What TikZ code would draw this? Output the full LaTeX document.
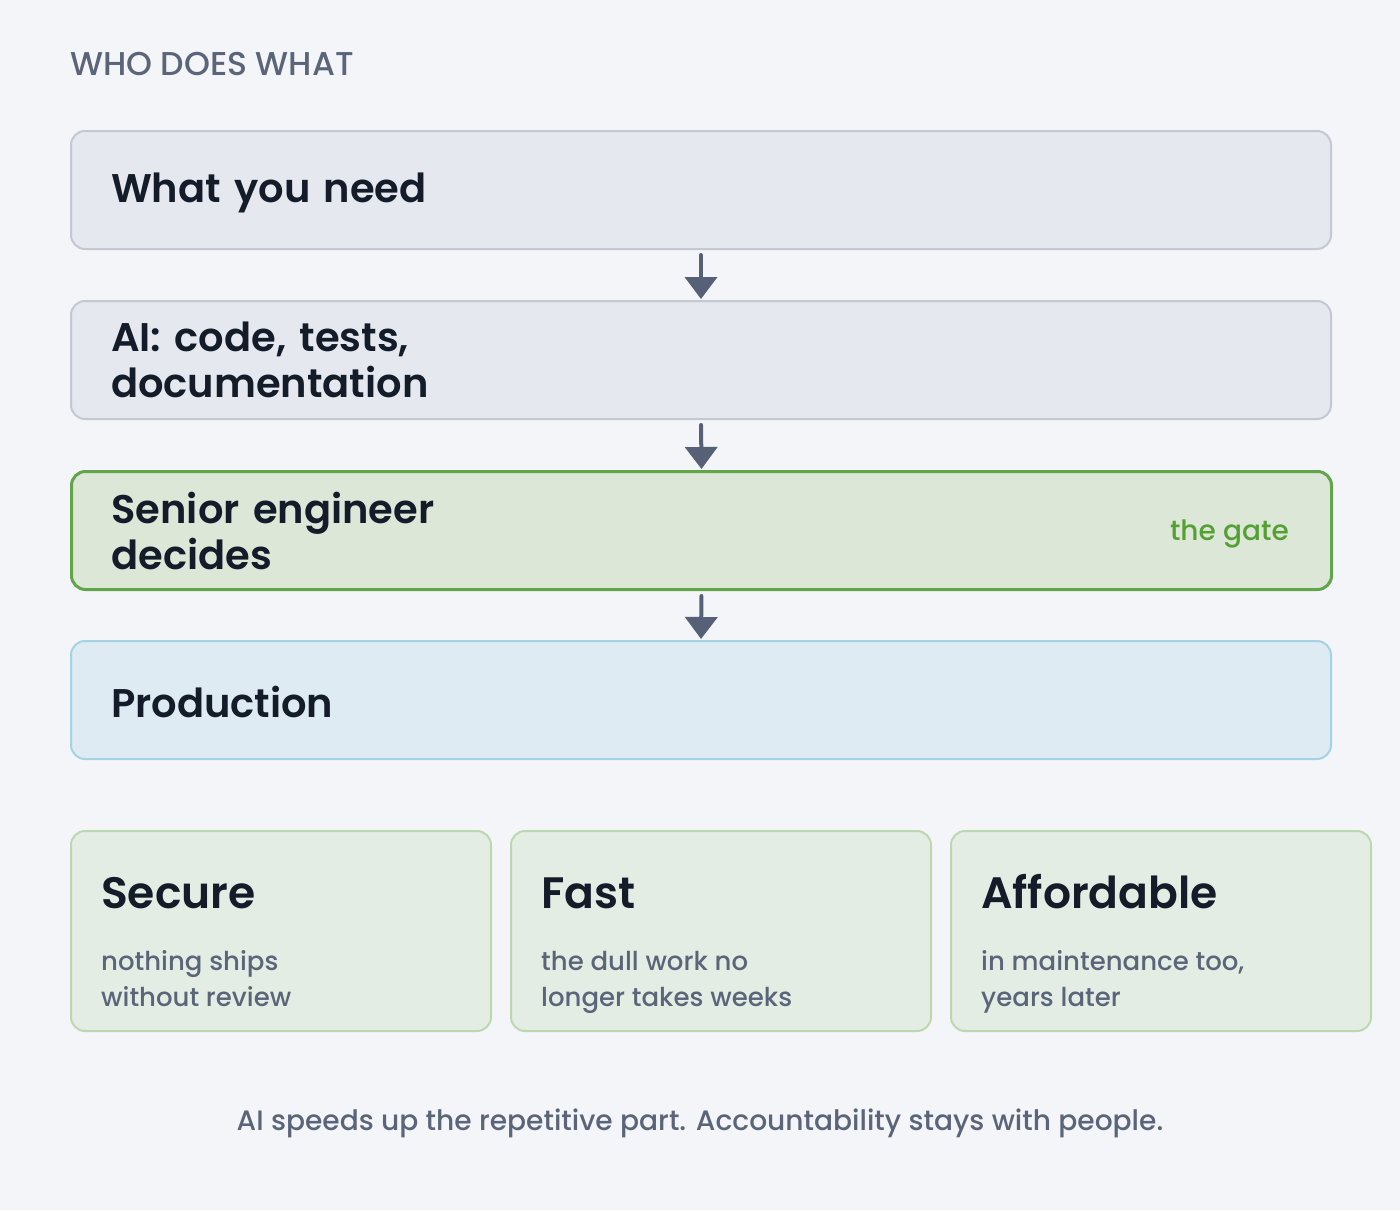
\documentclass[tikz,border=0pt]{standalone}
\usepackage{fontspec}
\setmainfont{Poppins}[BoldFont={Poppins SemiBold}]
\newfontfamily\mediumfont{Poppins Medium}
\usetikzlibrary{arrows.meta,positioning}
\definecolor{bgc}{HTML}{F3F5F9}
\definecolor{grayfill}{HTML}{E5E8EF}
\definecolor{graydraw}{HTML}{C4C8D0}
\definecolor{darktext}{HTML}{141C2A}
\definecolor{greenfill}{HTML}{DCE7D8}
\definecolor{greendraw}{HTML}{62A44A}
\definecolor{gatetext}{HTML}{55A035}
\definecolor{prodfill}{HTML}{DEEBF2}
\definecolor{proddraw}{HTML}{A6D3E3}
\definecolor{cardfill}{HTML}{E3EDE3}
\definecolor{carddraw}{HTML}{BCD8B0}
\definecolor{subtext}{HTML}{5B6579}
\definecolor{arrowc}{HTML}{566178}
\tikzset{
  flowbox/.style={rectangle, rounded corners=14pt, line width=2pt, minimum width=1260pt, minimum height=118pt, text width=1180pt, inner xsep=38pt, inner ysep=0pt, align=left, anchor=north west, text=darktext, font=\fontsize{40}{46}\selectfont\bfseries},
  graybox/.style={flowbox, fill=grayfill, draw=graydraw},
  gatebox/.style={flowbox, fill=greenfill, draw=greendraw, line width=3pt},
  prodbox/.style={flowbox, fill=prodfill, draw=proddraw},
  card/.style={rectangle, rounded corners=14pt, line width=2pt, minimum width=420pt, minimum height=200pt, anchor=north west, fill=cardfill, draw=carddraw},
  cardtitle/.style={anchor=base west, inner sep=0pt, text=darktext, font=\fontsize{44}{50}\selectfont\bfseries},
  cardsub/.style={anchor=base west, inner sep=0pt, text=subtext, align=left, font=\mediumfont\fontsize{26}{36}\selectfont},
  flowarrow/.style={draw=arrowc, line width=4pt, line cap=round, -{Triangle[width=32pt,length=22pt]}, shorten <=5pt, shorten >=1pt},
}
\begin{document}
\begin{tikzpicture}[x=1pt,y=-1pt]
\fill[bgc] (0,0) rectangle (1400,1210);
\useasboundingbox (0,0) rectangle (1400,1210);
\node[anchor=base west, inner sep=0pt, text=subtext, font=\mediumfont\fontsize{33}{36}\selectfont] (title) at (70,75) {WHO DOES WHAT};
\node[graybox] (b1) at (70,130) {\raisebox{-3pt}[\height][\depth]{What you need}};
\node[graybox] (b2) at (70,300) {AI: code, tests,\\documentation};
\node[gatebox] (b3) at (70,470) {Senior engineer\\decides};
\node[prodbox] (b4) at (70,640) {\raisebox{-2pt}[\height][\depth]{Production}};
\node[anchor=base east, inner sep=0pt, text=gatetext, font=\mediumfont\fontsize{28}{32}\selectfont] (gate) at (1289,540) {the gate};
\draw[flowarrow] (b1.south) -- (b2.north);
\draw[flowarrow] (b2.south) -- (b3.north);
\draw[flowarrow] (b3.south) -- (b4.north);
\node[card] (c1) at (70,830) {};
\node[card] (c2) at (510,830) {};
\node[card] (c3) at (950,830) {};
\node[cardtitle] (t1) at ([xshift=31pt,yshift=-78pt]c1.north west) {Secure};
\node[cardtitle] (t2) at ([xshift=31pt,yshift=-78pt]c2.north west) {Fast};
\node[cardtitle] (t3) at ([xshift=31pt,yshift=-78pt]c3.north west) {Affordable};
\node[cardsub] (s1) at ([xshift=31pt,yshift=-176pt]c1.north west) {nothing ships\\without review};
\node[cardsub] (s2) at ([xshift=31pt,yshift=-176pt]c2.north west) {the dull work no\\longer takes weeks};
\node[cardsub] (s3) at ([xshift=31pt,yshift=-176pt]c3.north west) {in maintenance too,\\years later};
\node[anchor=base, inner sep=0pt, text=subtext, font=\mediumfont\fontsize{28.1}{32}\selectfont] (foot) at (700,1130) {AI speeds up the repetitive part. Accountability stays with people.};
\end{tikzpicture}
\end{document}
